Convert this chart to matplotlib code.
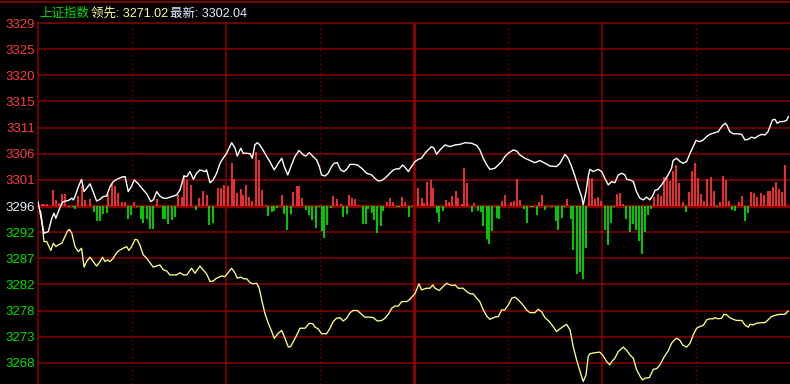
import matplotlib
matplotlib.use('Agg')
import matplotlib.pyplot as plt
from matplotlib.lines import Line2D

# 昨收基准与刻度间隔
base = 3296.4
step = 4.707
tick_labels = ['3268', '3273', '3278', '3282', '3287', '3292', '3296',
               '3301', '3306', '3311', '3315', '3320', '3325', '3329']

# 白线: 上证指数 (分钟, 点位)
white_t = [0, 1.9, 3.3, 4.4, 5.1, 5.7, 6.5, 7.6, 8.1, 9.7, 10.8, 11.3, 11.8, 12.9, 13.9, 14.7, 15.5, 16.6, 17.6, 18.7,
           19.8, 20.8, 21.9, 23.0, 24.0, 25.1, 26.7, 27.8, 28.8, 29.9, 30.7, 32.0, 33.6, 34.7, 36.0, 36.8, 37.9, 38.9,
           40.0, 41.1, 42.7, 44.3, 45.3, 46.6, 47.5, 48.5, 49.6, 50.6, 51.7, 53.3, 53.8, 54.9, 55.9, 57.0, 58.1, 59.1,
           60.2, 60.7, 61.8, 62.9, 63.6, 64.7, 65.5, 66.6, 67.7, 68.4, 69.2, 70.0, 70.8, 71.9, 73.0, 74.0, 75.4, 76.7,
           77.8, 78.6, 79.7, 80.7, 82.0, 83.3, 84.7, 85.5, 86.6, 87.8, 88.9, 89.8, 90.5, 91.6, 92.6, 93.7, 94.5, 95.5,
           96.6, 97.6, 98.5, 99.6, 100.6, 101.9, 103.3, 104.9, 106.5, 107.5, 108.6, 109.7, 110.7, 112.3, 113.4, 114.5,
           115.3, 116.4, 117.1, 118.2, 119.2, 120.3, 121.4, 122.4, 123.5, 124.5, 125.6, 126.4, 127.2, 128.3, 129.9,
           131.5, 133.1, 134.7, 136.3, 138.4, 140.0, 141.0, 142.1, 143.2, 144.2, 145.8, 146.9, 148.0, 149.0, 150.1,
           151.7, 152.8, 153.8, 155.4, 157.0, 158.6, 160.2, 161.8, 163.4, 165.5, 166.6, 168.2, 169.2, 170.3, 171.4,
           172.4, 173.5, 174.0, 174.9, 175.6, 176.1, 177.2, 178.8, 179.9, 180.9, 182.0, 183.1, 184.1, 185.2, 186.3,
           187.3, 187.9, 188.9, 190.0, 191.0, 192.1, 193.2, 194.2, 195.3, 196.3, 196.9, 197.9, 199.0, 200.1, 201.1,
           202.2, 202.7, 203.8, 204.9, 205.9, 207.0, 208.1, 209.1, 210.0, 211.2, 212.3, 213.4, 214.4, 216.0, 217.1,
           218.2, 219.3, 219.8, 220.8, 221.9, 223.5, 224.6, 225.6, 226.7, 227.7, 228.8, 229.8, 230.9, 232.0, 233.0,
           233.6, 234.4, 235.2, 235.9, 236.8, 237.8, 238.9, 239.5]
white_v = [3297.2, 3291.5, 3291.8, 3294.2, 3295.1, 3294.2, 3295.4, 3296.9, 3297.2, 3297.4, 3297.8, 3297.5, 3298.1,
           3299.9, 3301.2, 3299.0, 3299.6, 3300.4, 3299.0, 3297.3, 3297.6, 3298.1, 3298.2, 3299.9, 3300.8, 3301.2,
           3301.6, 3301.7, 3299.0, 3300.0, 3301.1, 3300.4, 3299.3, 3298.6, 3297.2, 3297.5, 3299.0, 3298.2, 3297.8,
           3297.8, 3298.1, 3298.4, 3299.3, 3301.8, 3301.7, 3302.6, 3301.2, 3302.3, 3302.9, 3302.6, 3302.9, 3300.6,
           3301.1, 3302.3, 3304.1, 3305.0, 3305.9, 3306.5, 3307.8, 3306.8, 3305.4, 3306.8, 3305.9, 3305.9, 3305.8,
           3305.0, 3307.4, 3307.8, 3307.4, 3306.4, 3305.3, 3304.4, 3302.9, 3304.1, 3305.0, 3303.5, 3302.0, 3303.5,
           3305.3, 3306.4, 3305.6, 3305.4, 3306.0, 3305.3, 3304.7, 3303.5, 3302.0, 3301.8, 3302.3, 3303.5, 3304.1,
           3304.2, 3302.9, 3302.6, 3303.0, 3303.9, 3303.9, 3303.8, 3303.2, 3302.3, 3302.0, 3301.4, 3300.9, 3301.0,
           3301.4, 3302.3, 3302.9, 3303.1, 3303.1, 3303.8, 3303.4, 3302.6, 3303.5, 3304.4, 3304.8, 3305.0, 3305.9,
           3306.5, 3307.1, 3306.8, 3305.7, 3306.5, 3307.4, 3307.1, 3307.4, 3307.5, 3307.8, 3307.7, 3307.3, 3306.5,
           3305.0, 3303.8, 3303.0, 3303.2, 3303.8, 3304.4, 3305.3, 3305.9, 3306.5, 3306.3, 3305.6, 3305.0, 3304.6,
           3304.2, 3304.6, 3304.1, 3303.6, 3303.5, 3304.1, 3305.7, 3305.0, 3303.5, 3301.7, 3299.9, 3298.1, 3296.6,
           3299.0, 3301.7, 3303.0, 3302.6, 3303.0, 3302.6, 3301.4, 3300.2, 3300.8, 3300.6, 3302.0, 3302.3, 3302.0,
           3301.2, 3301.1, 3300.8, 3299.0, 3297.8, 3297.5, 3298.0, 3297.5, 3298.4, 3299.2, 3299.4, 3300.2, 3301.1,
           3302.0, 3303.2, 3304.6, 3305.0, 3304.4, 3304.1, 3304.4, 3305.9, 3307.1, 3308.2, 3308.0, 3308.3, 3308.9,
           3309.3, 3309.6, 3309.8, 3310.7, 3311.3, 3311.0, 3309.8, 3309.4, 3309.4, 3309.3, 3308.3, 3308.4, 3308.8,
           3308.6, 3309.0, 3309.3, 3309.2, 3309.8, 3310.7, 3311.9, 3312.0, 3311.3, 3311.6, 3311.6, 3311.8, 3312.5]

# 黄线: 领先指标 (分钟, 点位)
yellow_t = [0.8, 1.2, 1.9, 2.8, 3.3, 4.1, 4.9, 5.7, 6.5, 7.6, 8.6, 9.3, 10.0, 10.8, 11.8, 12.9, 13.9, 14.7, 15.5,
            16.6, 17.6, 18.7, 19.8, 20.6, 21.4, 22.1, 23.0, 24.0, 25.1, 26.2, 27.2, 28.3, 29.0, 29.9, 31.0, 31.7,
            32.5, 33.6, 34.7, 35.7, 36.8, 37.9, 38.9, 40.0, 41.1, 42.1, 44.3, 45.3, 46.4, 47.5, 49.0, 50.1, 51.7,
            52.7, 53.8, 54.9, 55.9, 57.0, 58.6, 59.7, 60.4, 61.8, 62.9, 63.6, 64.7, 65.7, 66.6, 67.7, 68.7, 69.8,
            70.6, 71.4, 72.4, 73.5, 74.6, 75.4, 76.7, 77.8, 78.8, 79.9, 80.6, 81.5, 82.6, 83.6, 85.2, 86.6, 87.7,
            88.4, 89.4, 90.5, 92.1, 93.2, 94.2, 95.3, 96.4, 97.4, 98.5, 99.6, 100.6, 101.9, 103.3, 104.3, 105.9,
            107.0, 108.3, 109.7, 110.7, 111.8, 112.9, 113.9, 115.0, 116.1, 117.7, 118.5, 119.6, 120.3, 121.0,
            121.6, 122.4, 124.0, 125.1, 126.0, 126.7, 128.1, 129.3, 130.4, 131.5, 132.3, 133.1, 134.1, 135.7,
            136.8, 137.9, 138.9, 140.0, 141.0, 142.1, 143.2, 144.2, 145.8, 146.9, 148.0, 149.0, 150.1, 151.2,
            152.2, 153.3, 154.9, 155.9, 157.0, 158.6, 159.6, 160.7, 161.8, 163.2, 164.4, 165.5, 166.6, 167.6,
            168.7, 169.8, 170.8, 171.9, 173.0, 174.0, 174.9, 175.6, 176.1, 177.7, 179.3, 180.4, 181.5, 182.5,
            183.1, 184.1, 185.2, 186.8, 187.9, 188.9, 190.0, 191.0, 192.1, 192.9, 193.7, 195.1, 196.4, 197.4,
            198.5, 199.6, 201.2, 202.2, 203.3, 204.0, 204.9, 205.7, 207.0, 208.1, 209.1, 210.2, 211.2, 212.3,
            213.4, 214.4, 215.5, 216.0, 217.1, 218.2, 218.9, 219.8, 220.8, 221.9, 223.0, 224.6, 225.6, 226.7,
            227.2, 228.3, 229.3, 230.9, 232.0, 233.0, 234.1, 235.7, 236.8, 238.4, 239.4]
yellow_v = [3295.5, 3293.9, 3290.0, 3290.0, 3289.4, 3288.4, 3289.7, 3289.1, 3289.4, 3289.7, 3290.9, 3291.8, 3292.2,
            3291.5, 3289.1, 3288.2, 3288.8, 3285.4, 3286.4, 3287.2, 3286.4, 3285.6, 3286.4, 3287.2, 3286.4, 3286.7,
            3286.4, 3287.0, 3288.0, 3288.5, 3288.8, 3289.1, 3288.4, 3289.1, 3290.4, 3290.3, 3289.4, 3287.6, 3287.0,
            3286.2, 3285.4, 3285.6, 3285.8, 3284.9, 3284.7, 3284.0, 3284.0, 3284.4, 3284.0, 3284.0, 3285.2, 3284.3,
            3285.6, 3284.9, 3284.2, 3282.8, 3282.9, 3283.4, 3283.8, 3283.7, 3284.2, 3285.2, 3284.3, 3283.4, 3283.6,
            3283.3, 3283.3, 3282.6, 3282.4, 3282.5, 3281.6, 3279.5, 3277.1, 3275.3, 3273.8, 3272.6, 3273.5, 3274.0,
            3272.6, 3271.0, 3271.1, 3272.0, 3273.2, 3274.4, 3274.4, 3275.3, 3275.2, 3274.6, 3274.3, 3273.4, 3273.4,
            3274.4, 3275.6, 3276.2, 3276.3, 3275.7, 3276.2, 3277.2, 3277.6, 3277.6, 3276.9, 3276.4, 3276.4, 3276.3,
            3275.7, 3275.8, 3276.2, 3276.9, 3278.0, 3278.4, 3278.4, 3279.2, 3279.2, 3279.5, 3280.2, 3280.6, 3281.6,
            3282.4, 3281.3, 3281.6, 3281.6, 3282.2, 3281.6, 3281.2, 3281.9, 3282.5, 3282.2, 3282.1, 3282.2, 3281.6,
            3281.6, 3281.0, 3280.6, 3280.6, 3279.8, 3279.2, 3277.7, 3276.6, 3276.0, 3276.4, 3276.5, 3277.7, 3277.7,
            3278.6, 3279.8, 3280.0, 3279.5, 3278.5, 3277.7, 3277.2, 3277.2, 3277.8, 3277.4, 3276.3, 3275.6, 3274.7,
            3273.8, 3274.3, 3274.7, 3275.1, 3274.1, 3271.1, 3268.7, 3266.6, 3264.8, 3266.0, 3269.3, 3269.8, 3270.0,
            3270.1, 3269.4, 3268.4, 3267.8, 3268.4, 3269.0, 3270.2, 3271.0, 3270.4, 3269.6, 3269.0, 3267.0, 3265.8,
            3265.1, 3265.4, 3265.5, 3267.0, 3267.1, 3267.8, 3269.0, 3270.4, 3271.7, 3272.4, 3272.6, 3272.2, 3271.4,
            3271.0, 3271.7, 3273.2, 3274.4, 3274.7, 3274.9, 3275.9, 3276.1, 3276.1, 3276.3, 3276.1, 3276.2, 3276.9,
            3276.8, 3276.3, 3276.0, 3275.8, 3275.8, 3275.0, 3274.6, 3275.1, 3275.0, 3275.3, 3275.4, 3275.4, 3275.9,
            3276.5, 3276.8, 3276.9, 3276.9, 3277.5]

# 红柱 (分钟, 强度)
red_t = [1.2, 1.9, 2.8, 4.9, 5.7, 6.8, 7.8, 8.7, 12.9, 13.9, 15.0, 16.6, 22.4, 23.5, 24.6, 25.6, 26.7, 27.8, 30.7,
         37.9, 44.8, 45.9, 46.6, 47.5, 48.7, 51.5, 52.7, 53.8, 57.5, 58.4, 59.4, 60.7, 61.8, 62.6, 63.6, 64.7, 65.5,
         66.5, 67.4, 68.4, 69.6, 70.6, 71.6, 72.7, 77.8, 81.5, 82.6, 83.4, 84.3, 94.2, 95.5, 96.6, 99.3, 100.3,
         101.3, 102.2, 111.3, 112.3, 113.4, 116.3, 117.2, 121.4, 122.4, 123.3, 124.2, 125.3, 126.1, 130.2, 131.2,
         132.2, 133.3, 134.1, 135.2, 136.0, 137.0, 139.2, 148.2, 149.2, 151.0, 152.0, 152.9, 153.8, 160.0, 160.9,
         168.9, 175.9, 176.9, 177.8, 178.8, 179.8, 184.9, 185.9, 186.8, 196.6, 197.9, 198.8, 199.8, 200.8, 201.7,
         202.7, 203.7, 204.6, 205.7, 207.8, 208.8, 209.8, 210.7, 211.7, 212.6, 213.6, 214.8, 215.8, 217.6, 218.7,
         219.6, 220.6, 223.8, 224.8, 227.6, 228.6, 229.6, 230.6, 231.8, 232.9, 233.7, 234.6, 235.6, 236.6, 237.5,
         238.5]
red_v = [0.36, 0.36, 0.36, 2.88, 1.08, 0.6, 2.16, 2.16, 1.8, 3.6, 1.08, 1.26, 2.16, 4.08, 3.6, 2.28, 0.78, 0.78, 0.78,
         1.26, 1.98, 1.68, 5.58, 4.68, 3.78, 1.38, 2.76, 1.98, 3.3, 3.3, 3.78, 3.6, 7.68, 4.8, 2.4, 3.0, 1.98, 3.78,
         1.68, 0.96, 9.78, 8.28, 2.88, 0.18, 1.98, 2.58, 3.6, 3.6, 1.38, 1.8, 1.2, 0.36, 1.98, 1.38, 1.2, 0.18, 0.78,
         1.38, 0.78, 1.68, 0.78, 3.18, 1.38, 0.6, 4.38, 4.68, 3.18, 1.08, 0.78, 1.8, 2.7, 1.38, 0.36, 6.78, 4.2,
         0.48, 0.9, 1.98, 0.78, 0.9, 4.8, 1.08, 0.78, 1.98, 1.2, 5.1, 4.98, 1.2, 1.56, 0.9, 2.16, 2.28, 0.3, 1.56,
         2.16, 1.8, 5.28, 4.98, 4.5, 6.3, 7.38, 4.2, 0.78, 2.58, 6.3, 7.68, 4.98, 2.16, 0.96, 4.86, 5.16, 2.7, 0.78,
         5.4, 4.68, 0.96, 0.78, 1.8, 2.58, 2.28, 1.68, 2.28, 1.98, 2.76, 2.76, 3.36, 4.38, 3.0, 2.58, 7.38]

# 绿柱 (分钟, 强度)
green_t = [10.0, 11.1, 11.8, 18.0, 18.9, 19.8, 20.8, 21.9, 28.8, 29.8, 31.7, 32.8, 33.6, 34.9, 35.7, 36.8, 39.8,
           40.6, 41.6, 42.7, 43.8, 50.4, 54.7, 55.7, 73.5, 74.6, 75.4, 76.4, 78.6, 79.6, 80.6, 85.4, 86.6, 87.5,
           88.6, 89.6, 90.5, 91.4, 92.3, 93.4, 97.4, 98.5, 103.6, 104.6, 105.4, 106.5, 107.3, 108.3, 109.4, 110.2,
           114.5, 115.3, 118.3, 119.3, 127.2, 128.1, 129.3, 138.4, 140.3, 141.3, 142.1, 143.2, 144.0, 145.0, 146.4,
           147.2, 155.2, 156.1, 157.2, 158.1, 159.1, 161.8, 164.2, 165.2, 166.0, 167.1, 167.9, 170.0, 170.8, 172.1,
           173.0, 174.0, 175.0, 181.0, 182.0, 182.8, 183.8, 187.7, 188.9, 190.0, 190.9, 191.9, 192.9, 193.7, 194.8,
           195.7, 206.8, 216.8, 221.6, 222.5, 225.6, 226.6]
green_v = [0.12, 0.12, 0.48, 1.08, 2.7, 2.7, 1.5, 1.2, 2.28, 1.68, 0.12, 2.4, 3.12, 2.4, 4.2, 4.2, 2.4, 2.28, 3.3,
           2.52, 1.92, 0.72, 3.48, 3.0, 1.8, 1.08, 0.9, 0.36, 1.5, 4.32, 1.5, 0.72, 1.68, 2.52, 4.02, 0.24, 4.5, 5.7,
           3.42, 0.36, 1.98, 1.5, 3.3, 3.3, 0.6, 1.32, 2.52, 4.8, 3.6, 0.9, 0.12, 0.12, 1.98, 0.18, 1.2, 2.88, 0.9,
           1.08, 0.9, 1.08, 3.6, 6.0, 6.9, 4.5, 2.22, 2.28, 0.48, 3.0, 0.24, 0.18, 1.62, 0.72, 0.18, 2.7, 4.32, 2.22,
           0.18, 2.28, 7.92, 12.3, 11.88, 13.2, 7.5, 4.32, 7.02, 3.0, 0.12, 2.28, 4.68, 3.3, 4.32, 6.3, 8.7, 4.68,
           1.62, 0.6, 1.08, 0.2, 0.72, 0.9, 2.7, 1.2]

grid_c = '#8c0000'
W, H = 790, 384

fig = plt.figure(figsize=(W / 100, H / 100), dpi=100, facecolor='black')
ax = fig.add_axes([38 / W, 0, 1 - 38 / W, 1 - 23 / H])
ax.set_facecolor('black')

ax.set_xlim(0, 240)
ax.set_ylim(base - (H - 206) / 26.15 * step, base + 7 * step)

# 横向网格
ticks = [base + step * k for k in range(-6, 8)]
for k, y in zip(range(-6, 8), ticks):
    ax.axhline(y, color=grid_c, lw=2.4 if k == 0 else 1.1, zorder=1, clip_on=False)

# 纵向网格
for m in [30, 90, 150, 210]:
    ax.axvline(m, color=grid_c, lw=0.9, ls=(0, (1, 2.5)), zorder=1)
for m in [60, 180]:
    ax.axvline(m, color=grid_c, lw=1.1, zorder=1)
ax.axvline(120, color=grid_c, lw=2.2, zorder=1)

# 红绿柱
ax.vlines(red_t, base, [base + v for v in red_v], color='#ff3333', lw=1.3, zorder=2)
ax.vlines(green_t, base, [base - v for v in green_v], color='#00dd00', lw=1.3, zorder=2)

ax.plot(yellow_t, yellow_v, color='#ffff80', lw=0.95, zorder=3)
ax.plot(white_t, white_v, color='white', lw=1.0, zorder=4)

ax.set_yticks(ticks)
ax.set_yticklabels(tick_labels, fontsize=9.5, family='Liberation Sans')
for k, lab in zip(range(-6, 8), ax.get_yticklabels()):
    lab.set_color('#ff3c3c' if k > 0 else ('#e6eeff' if k == 0 else '#00e000'))
ax.tick_params(axis='y', length=0, pad=2)
ax.set_xticks([])

for s in ['right', 'bottom', 'top']:
    ax.spines[s].set_visible(False)
ax.spines['left'].set_color(grid_c)
ax.spines['left'].set_linewidth(1.1)

# 顶部细线
fig.add_artist(Line2D([0, 1], [1 - 1.5 / H, 1 - 1.5 / H], color=grid_c, lw=1.2, transform=fig.transFigure))

fam = ['Liberation Sans', 'Noto Sans CJK SC']
ty = 1 - 17 / H
fig.text(39 / W, ty, '上证指数', color='#00e000', fontsize=9, family=fam, va='baseline')
fig.text(91 / W, ty, '领先: 3271.02', color='#ffff99', fontsize=9, family=fam, va='baseline')
fig.text(170 / W, ty, '最新: 3302.04', color='#e6eeff', fontsize=9, family=fam, va='baseline')

fig.savefig('out.png', dpi=100, facecolor='black')
